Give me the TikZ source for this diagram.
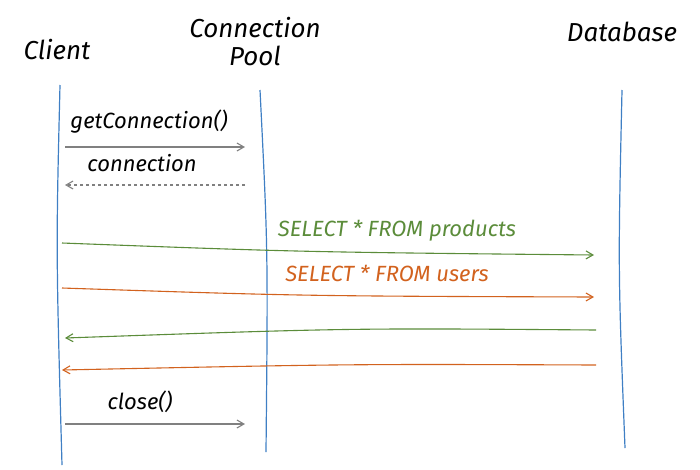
\documentclass[tikz,border=0pt]{standalone}
\usepackage{fontspec}
\setmainfont{Fira Sans}
\usetikzlibrary{arrows.meta}
\definecolor{lblue}{HTML}{3F7FC4}
\definecolor{lgreen}{HTML}{5B8C3A}
\definecolor{lorange}{HTML}{D2621E}
\definecolor{lgray}{HTML}{808080}
\begin{document}
\begin{tikzpicture}[x=1pt,y=-1pt,
  life/.style={lblue,line width=1.2pt},
  title/.style={font=\fontsize{26}{28}\selectfont\itshape,align=center},
  lbl/.style={font=\fontsize{22}{24}\selectfont\itshape},
  msg/.style={-{Straight Barb[length=7pt,width=8pt]},line width=1.1pt}]
\useasboundingbox (0,0) rectangle (700,469);
\node[title] (tc) at (57,50) {Client};
\node[title] (tp) at (255,42) {Connection\\Pool};
\node[title] (td) at (622,32) {Database};
\coordinate (c1) at (60,85); \coordinate (c2) at (62,465);
\coordinate (p1) at (260,90); \coordinate (p2) at (266,452);
\coordinate (d1) at (622,90); \coordinate (d2) at (625,448);
\draw[life] (c1) .. controls (56,250) .. (c2);
\draw[life] (p1) .. controls (268,250) .. (p2);
\draw[life] (d1) .. controls (618,270) .. (d2);
% messages
\coordinate (a1) at (65,147); \coordinate (a2) at (245,147);
\draw[msg,lgray] (a1) -- (a2);
\node[lbl] (l1) at (149,122) {getConnection()};
\coordinate (b1) at (245,185); \coordinate (b2) at (65,185);
\draw[msg,lgray,dashed] (b1) -- (b2);
\node[lbl] (l2) at (142,163) {connection};
\coordinate (e1) at (62,243); \coordinate (e2) at (594,255);
\draw[msg,lgreen] (e1) .. controls (300,252) .. (e2);
\node[lbl,lgreen] (l3) at (397,231) {SELECT * FROM products};
\coordinate (f1) at (62,288); \coordinate (f2) at (594,297);
\draw[msg,lorange] (f1) .. controls (300,296) .. (f2);
\node[lbl,lorange] (l4) at (387,273) {SELECT * FROM users};
\coordinate (g1) at (596,330); \coordinate (g2) at (65,338);
\draw[msg,lgreen] (g1) .. controls (350,328) .. (g2);
\coordinate (h1) at (596,365); \coordinate (h2) at (62,370);
\draw[msg,lorange] (h1) .. controls (350,364) .. (h2);
\coordinate (k1) at (65,424); \coordinate (k2) at (245,424);
\draw[msg,lgray] (k1) -- (k2);
\node[lbl] (l5) at (140,402) {close()};
\end{tikzpicture}
\end{document}
